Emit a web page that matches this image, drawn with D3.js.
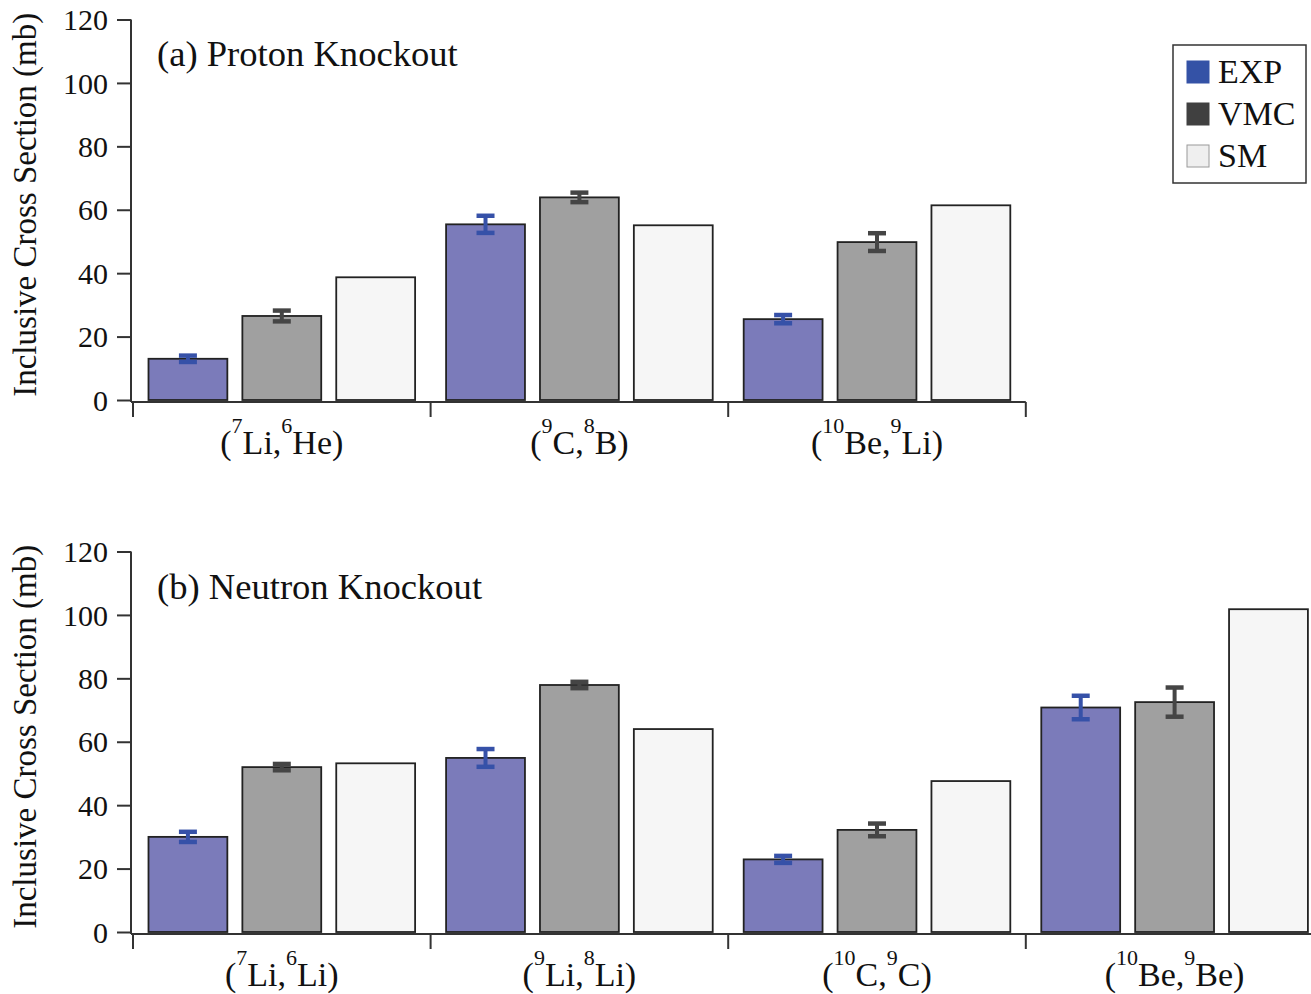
<!DOCTYPE html>
<html>
<head>
<meta charset="utf-8">
<script src="https://cdn.jsdelivr.net/npm/d3@7"></script>
<style>
  html, body { margin: 0; padding: 0; background: #fff; }
  svg { display: block; }
  text { font-family: "Liberation Serif", "Times New Roman", serif !important; fill: #111; }
</style>
</head>
<body>
<svg id="chart" width="1311" height="994"></svg>
<script>
// ---------------- data ----------------
const seriesNames = ["EXP", "VMC", "SM"];
const yTicks = [0, 20, 40, 60, 80, 100, 120];

const protonCategories = ["7Li,6He", "9C,8B", "10Be,9Li"];
const protonExp    = [13.0, 55.4, 25.5];
const protonExpErr = [1.0, 2.7, 1.3];
const protonVmc    = [26.5, 63.9, 49.8];
const protonVmcErr = [1.7, 1.5, 2.8];
const protonSm     = [38.7, 55.1, 61.4];

const neutronCategories = ["7Li,6Li", "9Li,8Li", "10C,9C", "10Be,9Be"];
const neutronExp    = [30.0, 54.9, 22.9, 70.8];
const neutronExpErr = [1.6, 2.8, 1.1, 3.7];
const neutronVmc    = [52.0, 77.9, 32.2, 72.5];
const neutronVmcErr = [1.0, 1.0, 2.0, 4.6];
const neutronSm     = [53.2, 64.0, 47.6, 101.8];

// ---------------- styles ----------------
const barFill  = { EXP: "#7b7bba", VMC: "#a0a0a0", SM: "#f6f6f6" };
const errColor = { EXP: "#3651a8", VMC: "#454545" };
const legendFill = { EXP: "#3452a6", VMC: "#404040", SM: "#efefef" };
const legendStroke = { EXP: "#3452a6", VMC: "#404040", SM: "#9a9a9a" };

const svg = d3.select("#chart");
const BAND = 297.6;

function buildRows(cats, exp, expErr, vmc, vmcErr, sm) {
  return cats.map((c, i) => ({
    cat: c,
    values: [
      { s: "EXP", v: exp[i], e: expErr[i] },
      { s: "VMC", v: vmc[i], e: vmcErr[i] },
      { s: "SM",  v: sm[i],  e: null }
    ]
  }));
}

function drawPanel(opt) {
  const { cats, rows, yBottom, yTop, xAxisY, title, titleY } = opt;
  const g = svg.append("g");
  const x0 = 133;
  const x = d3.scaleBand().domain(cats).range([x0, x0 + BAND * cats.length]).padding(0);
  const xi = d3.scaleBand().domain(seriesNames).range([0, x.bandwidth()])
    .paddingInner(0.16).paddingOuter(0.165);
  const y = d3.scaleLinear().domain([0, 120]).range([yBottom, yTop]);

  // y axis
  const yAxis = g.append("g").attr("transform", "translate(131,0)")
    .call(d3.axisLeft(y).tickValues(yTicks).tickSize(14).tickSizeOuter(0).tickPadding(9));
  yAxis.attr("font-family", null).attr("font-size", null);
  yAxis.select(".domain").attr("stroke", "#333").attr("stroke-width", 2)
    .attr("d", `M0,${y(120)}V${xAxisY}`);
  yAxis.selectAll(".tick line").attr("stroke", "#333").attr("stroke-width", 2);
  yAxis.selectAll(".tick text").style("font-size", "30px")
    .style("font-family", "'Liberation Serif', serif").attr("fill", "#111").attr("dy", "0.34em");

  // y title
  g.append("text")
    .attr("transform", `translate(36,${(yBottom + yTop) / 2 - 5}) rotate(-90)`)
    .attr("text-anchor", "middle").attr("font-size", 33)
    .text("Inclusive Cross Section (mb)");

  // x axis line and ticks at band boundaries
  const xEnd = x.range()[1];
  g.append("line").attr("x1", 131).attr("x2", xEnd).attr("y1", xAxisY).attr("y2", xAxisY)
    .attr("stroke", "#333").attr("stroke-width", 2);
  const bounds = cats.map(c => x(c)).concat([xEnd]);
  g.selectAll(".btick").data(bounds).join("line")
    .attr("x1", d => d).attr("x2", d => d)
    .attr("y1", xAxisY).attr("y2", xAxisY + 15)
    .attr("stroke", "#333").attr("stroke-width", 2);

  // category labels with superscripts
  cats.forEach(c => {
    const parts = c.split(",").map(p => p.match(/^(\d+)([A-Za-z]+)$/));
    const t = g.append("text").attr("x", x(c) + x.bandwidth() / 2).attr("y", xAxisY + 52)
      .attr("text-anchor", "middle").attr("font-size", 34);
    t.append("tspan").text("(");
    t.append("tspan").attr("font-size", 22).attr("dy", -21).text(parts[0][1]);
    t.append("tspan").attr("dy", 21).text(parts[0][2] + ",");
    t.append("tspan").attr("font-size", 22).attr("dy", -21).text(parts[1][1]);
    t.append("tspan").attr("dy", 21).text(parts[1][2] + ")");
  });

  // bars
  const groups = g.selectAll(".grp").data(rows).join("g")
    .attr("transform", d => `translate(${x(d.cat)},0)`);
  groups.selectAll("rect").data(d => d.values).join("rect")
    .attr("x", d => xi(d.s)).attr("width", xi.bandwidth())
    .attr("y", d => y(d.v)).attr("height", d => y(0) - y(d.v))
    .attr("fill", d => barFill[d.s]).attr("stroke", "#222").attr("stroke-width", 1.8);

  // error bars
  const eb = groups.selectAll(".eb").data(d => d.values.filter(v => v.e != null)).join("g");
  eb.append("line")
    .attr("x1", d => xi(d.s) + xi.bandwidth() / 2).attr("x2", d => xi(d.s) + xi.bandwidth() / 2)
    .attr("y1", d => y(d.v + d.e)).attr("y2", d => y(d.v - d.e))
    .attr("stroke", d => errColor[d.s]).attr("stroke-width", 4);
  [1, -1].forEach(sg => {
    eb.append("line")
      .attr("x1", d => xi(d.s) + xi.bandwidth() / 2 - 9).attr("x2", d => xi(d.s) + xi.bandwidth() / 2 + 9)
      .attr("y1", d => y(d.v + sg * d.e)).attr("y2", d => y(d.v + sg * d.e))
      .attr("stroke", d => errColor[d.s]).attr("stroke-width", 4.5);
  });

  // panel title
  g.append("text").attr("x", 157).attr("y", titleY).attr("font-size", 36.6).text(title);
}

drawPanel({
  cats: protonCategories,
  rows: buildRows(protonCategories, protonExp, protonExpErr, protonVmc, protonVmcErr, protonSm),
  yBottom: 400, yTop: 19.5, xAxisY: 402, title: "(a) Proton Knockout", titleY: 66
});
drawPanel({
  cats: neutronCategories,
  rows: buildRows(neutronCategories, neutronExp, neutronExpErr, neutronVmc, neutronVmcErr, neutronSm),
  yBottom: 932, yTop: 551.5, xAxisY: 934, title: "(b) Neutron Knockout", titleY: 599
});

// legend
const lg = svg.append("g");
lg.append("rect").attr("x", 1173).attr("y", 45).attr("width", 133).attr("height", 138)
  .attr("fill", "#fff").attr("stroke", "#333").attr("stroke-width", 1.5);
const li = lg.selectAll(".li").data(seriesNames).join("g")
  .attr("transform", (d, i) => `translate(1187,${61 + i * 42})`);
li.append("rect").attr("width", 22).attr("height", 22)
  .attr("fill", d => legendFill[d]).attr("stroke", d => legendStroke[d]).attr("stroke-width", 1);
li.append("text").attr("x", 31).attr("y", 22).attr("font-size", 34).text(d => d);
</script>
</body>
</html>
